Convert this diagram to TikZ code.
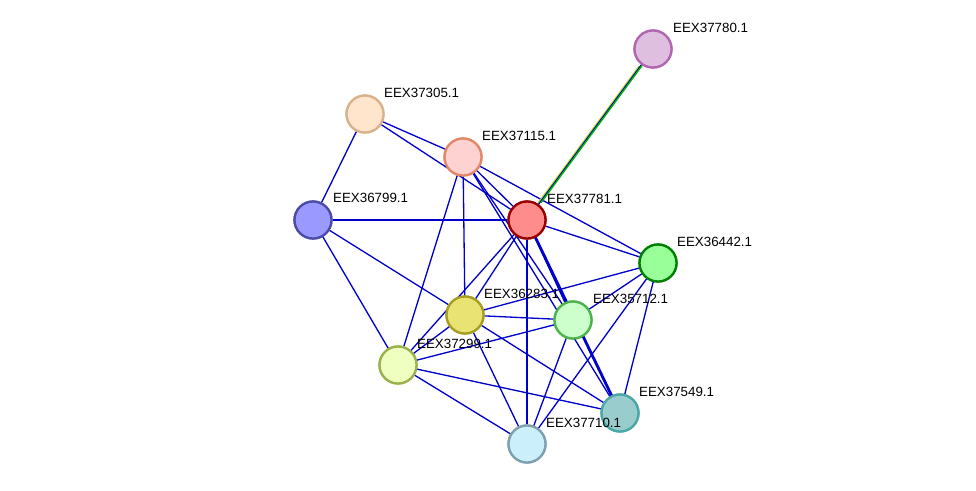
\documentclass[tikz,border=0pt]{standalone}
\usepackage{fontspec}
\setmainfont{Liberation Sans}
\usepackage{tikz}

\begin{document}
\begin{tikzpicture}[x=0.02cm, y=-0.02cm,
  prot/.style={circle, draw, line width=1.3pt, minimum size=0.74cm, inner sep=0pt},
  lbl/.style={anchor=south west, inner sep=1pt, font=\fontsize{7.6}{9}\selectfont},
  link/.style={draw=blue!80!black, line width=0.75pt}]

% the canvas
\useasboundingbox (0,0) rectangle (976,490);

% the edges first
\coordinate (dummy) at (0,0);

% the proteins
\node [prot, draw=violet!60, fill=violet!25] (P37780) at (653,49) {};
\node [prot, draw=brown!60, fill=orange!20] (P37305) at (365,114) {};
\node [prot, draw=red!35!brown!70, fill=pink!70] (P37115) at (463,157) {};
\node [prot, draw=blue!50!black!70, fill=blue!40] (P36799) at (313,220) {};
\node [prot, draw=red!60!black, fill=red!45] (P37781) at (527,220) {};
\node [prot, draw=green!50!black, fill=green!40] (P36442) at (658,263) {};
\node [prot, draw=olive!80, fill=olive!40!yellow!50] (P36283) at (465,315) {};
\node [prot, draw=green!40!gray, fill=green!20] (P35712) at (573,320) {};
\node [prot, draw=lime!40!gray, fill=lime!25] (P37299) at (398,365) {};
\node [prot, draw=teal!70, fill=teal!40] (P37549) at (620,413) {};
\node [prot, draw=cyan!30!gray, fill=cyan!20] (P37710) at (527,444) {};

% the links
\begin{scope}[on background layer/.style={}]
\foreach \a/\b in {P37305/P36799, P37305/P37115, P37305/P37781,
  P37115/P37781, P37115/P36442, P37115/P36283, P37115/P35712,
  P37115/P37549, P37115/P37299, P36799/P37781, P36799/P36283,
  P36799/P37299, P37781/P36442, P37781/P36283, P37781/P35712,
  P37781/P37710, P37781/P37299, P36442/P36283, P36442/P35712,
  P36442/P37549, P36442/P37710, P36283/P35712, P36283/P37299,
  P36283/P37710, P36283/P37549, P35712/P37299, P35712/P37710,
  P37299/P37549, P37299/P37710}
  \draw [link] (\a) -- (\b);
\draw [link, line width=1.6pt] (P37781) -- (P37549);
\draw [yellow!70!green, line width=0.8pt, transform canvas={xshift=-1.3pt, yshift=-0.8pt}] (P37780) -- (P37781);
\draw [link] (P37780) -- (P37781);
\draw [green!70!black, line width=0.8pt, transform canvas={xshift=1.3pt, yshift=0.8pt}] (P37780) -- (P37781);
\end{scope}

% redraw the proteins on top
\foreach \n in {P37780,P37305,P37115,P36799,P37781,P36442,P36283,P35712,P37299,P37549,P37710}
  \path (\n) node [prot, draw=none] {};
\node [prot, draw=violet!60, fill=violet!25] at (P37780) {};
\node [prot, draw=brown!60, fill=orange!20] at (P37305) {};
\node [prot, draw=red!35!brown!70, fill=pink!70] at (P37115) {};
\node [prot, draw=blue!50!black!70, fill=blue!40] at (P36799) {};
\node [prot, draw=red!60!black, fill=red!45] at (P37781) {};
\node [prot, draw=green!50!black, fill=green!40] at (P36442) {};
\node [prot, draw=olive!80, fill=olive!40!yellow!50] at (P36283) {};
\node [prot, draw=green!40!gray, fill=green!20] at (P35712) {};
\node [prot, draw=lime!40!gray, fill=lime!25] at (P37299) {};
\node [prot, draw=teal!70, fill=teal!40] at (P37549) {};
\node [prot, draw=cyan!30!gray, fill=cyan!20] at (P37710) {};

% the labels
\node [lbl] (L37780) at (671,35) {EEX37780.1};
\node [lbl] (L37305) at (382,100) {EEX37305.1};
\node [lbl] (L37115) at (480,143) {EEX37115.1};
\node [lbl] (L36799) at (331,205) {EEX36799.1};
\node [lbl] (L37781) at (545,206) {EEX37781.1};
\node [lbl] (L36442) at (675,249) {EEX36442.1};
\node [lbl] (L36283) at (482,301) {EEX36283.1};
\node [lbl] (L35712) at (591,306) {EEX35712.1};
\node [lbl] (L37299) at (415,351) {EEX37299.1};
\node [lbl] (L37549) at (637,399) {EEX37549.1};
\node [lbl] (L37710) at (544,430) {EEX37710.1};

\end{tikzpicture}
\end{document}
